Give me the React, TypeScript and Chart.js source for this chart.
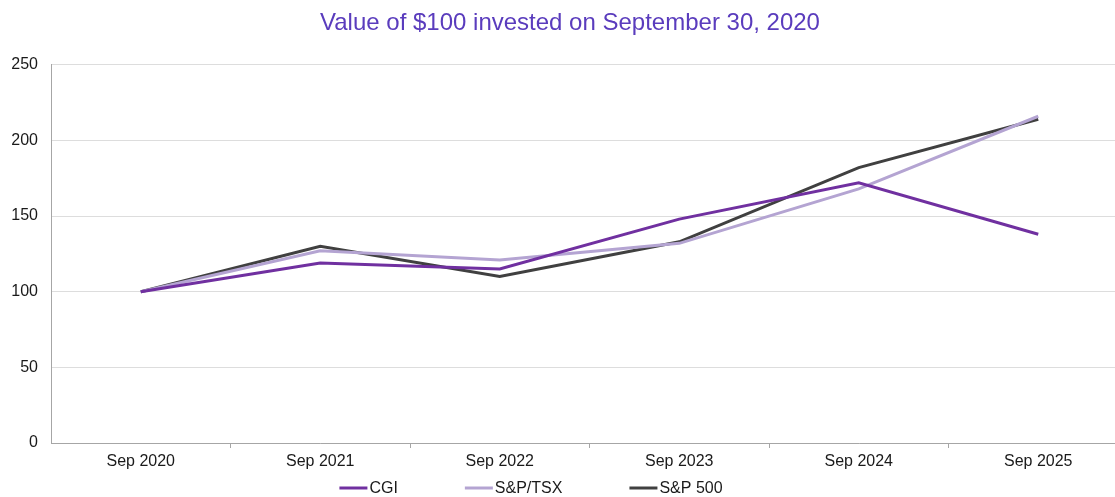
import React, { useEffect, useRef } from "react";
import { Chart, registerables } from "chart.js";

Chart.register(...registerables);

const categories = ["Sep 2020", "Sep 2021", "Sep 2022", "Sep 2023", "Sep 2024", "Sep 2025"];
const cgiValues = [100, 119, 115, 148, 172, 138];
const tsxValues = [100, 127, 121, 132, 168, 216];
const sp500Values = [100, 130, 110, 133, 182, 214];
const seriesNames = ["CGI", "S&P/TSX", "S&P 500"];
const seriesColors = ["#7030a0", "#b4a4d2", "#404040"];
const titleText = "Value of $100 invested on September 30, 2020";

const FONT = "'Liberation Sans', Arial, sans-serif";

const legendPlugin = {
  id: "spacedLegend",
  afterDraw(chart: any) {
    const ctx = chart.ctx as CanvasRenderingContext2D;
    ctx.save();
    ctx.font = `16px ${FONT}`;
    ctx.textBaseline = "middle";
    ctx.textAlign = "left";
    const lineLen = 28;
    const textGap = 2;
    const itemGap = 67;
    const items = chart.data.datasets.map((ds: any) => ({
      text: ds.label as string,
      color: ds.borderColor as string,
      w: lineLen + textGap + ctx.measureText(ds.label).width,
    }));
    const total = items.reduce((s: number, it: any) => s + it.w, 0) + itemGap * (items.length - 1);
    const centerX = 531;
    const y = 488;
    let x = centerX - total / 2;
    for (const it of items) {
      ctx.strokeStyle = it.color;
      ctx.lineWidth = 3;
      ctx.beginPath();
      ctx.moveTo(x, y);
      ctx.lineTo(x + lineLen, y);
      ctx.stroke();
      ctx.fillStyle = "#1a1a1a";
      ctx.fillText(it.text, x + lineLen + textGap, y + 1);
      x += it.w + itemGap;
    }
    ctx.restore();
  },
};

export default function App() {
  const ref = useRef<HTMLCanvasElement | null>(null);
  useEffect(() => {
    if (!ref.current) return;
    const chart = new Chart(ref.current, {
      type: "line",
      data: {
        labels: categories,
        datasets: [
          { label: seriesNames[0], data: cgiValues, borderColor: seriesColors[0], backgroundColor: seriesColors[0], borderWidth: 3, pointRadius: 0, tension: 0 },
          { label: seriesNames[1], data: tsxValues, borderColor: seriesColors[1], backgroundColor: seriesColors[1], borderWidth: 3, pointRadius: 0, tension: 0 },
          { label: seriesNames[2], data: sp500Values, borderColor: seriesColors[2], backgroundColor: seriesColors[2], borderWidth: 3, pointRadius: 0, tension: 0 },
        ],
      },
      options: {
        animation: false,
        responsive: false,
        devicePixelRatio: 1,
        layout: { padding: { left: 12, right: 7, top: 0, bottom: 26 } },
        plugins: {
          title: {
            display: true,
            text: titleText,
            color: "#5a3cbd",
            font: { family: FONT, size: 24, weight: "normal" },
            padding: { top: 9, bottom: 27 },
          },
          legend: { display: false },
          tooltip: { enabled: false },
        },
        scales: {
          x: {
            offset: true,
            afterFit: (s: any) => { s.height = 28; },
            grid: {
              offset: true,
              drawOnChartArea: false,
              drawTicks: true,
              tickLength: 5,
              color: "#a6a6a6",
              tickColor: (c: any) => (c.index === 0 ? "rgba(0,0,0,0)" : "#a6a6a6"),
            },
            border: { color: "#a6a6a6", width: 1 },
            ticks: { color: "#1a1a1a", font: { family: FONT, size: 16 }, padding: 4, maxRotation: 0 },
          },
          y: {
            min: 0,
            max: 250,
            afterFit: (s: any) => { s.width = 39; },
            grid: { color: "#dddddd", drawTicks: false },
            border: { color: "#a6a6a6", width: 1 },
            ticks: { stepSize: 50, color: "#1a1a1a", font: { family: FONT, size: 16 }, padding: 13 },
          },
        },
      },
      plugins: [legendPlugin],
    });
    return () => chart.destroy();
  }, []);
  return (
    <div style={{ position: "fixed", left: 0, top: 0, width: 1115, height: 497, overflow: "hidden", background: "#fff" }}>
      <canvas ref={ref} width={1135} height={497} style={{ display: "block" }} />
    </div>
  );
}
